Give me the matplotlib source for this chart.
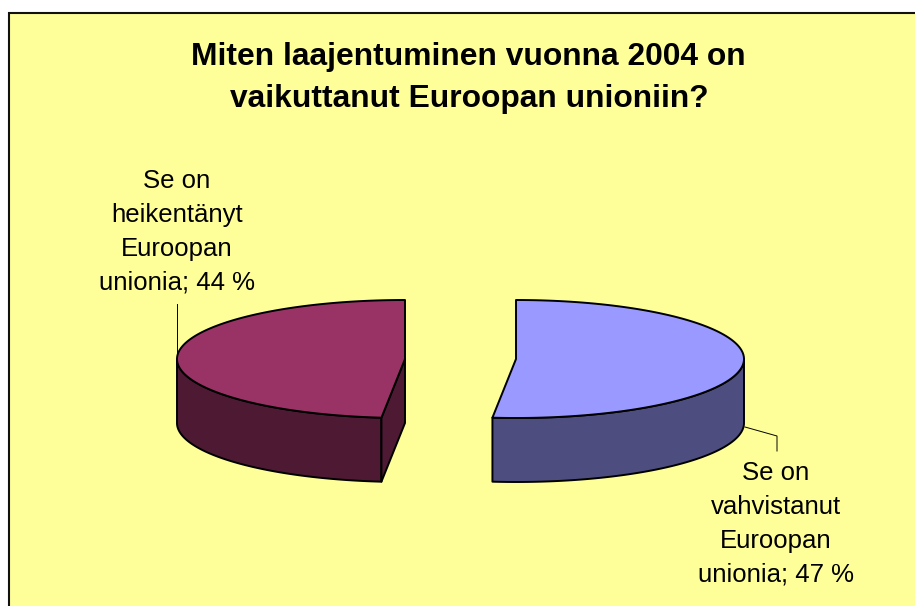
import numpy as np
from matplotlib import pyplot as plt
from matplotlib.patches import Rectangle

plt.rcParams['font.family'] = ['Liberation Sans', 'DejaVu Sans']

title_lines = ['Miten laajentuminen vuonna 2004 on', 'vaikuttanut Euroopan unioniin?']
labels = ['Se on\nvahvistanut\nEuroopan\nunionia', 'Se on\nheikentänyt\nEuroopan\nunionia']
values = [47, 44]
top_colors = ['#9999FF', '#993366']
side_colors = ['#4D4D80', '#4D1933']

# pie geometry in pixels
RX, RY, DEPTH = 228, 59, 64
CENTERS = [(516, 359), (405, 359)]
LW = 1.4


def rim(cx, cy, start, end, n=120):
    # angles in degrees, clockwise from 12 o'clock
    t = np.radians(np.linspace(start, end, n))
    return cx + RX * np.sin(t), cy - RY * np.cos(t)


def draw_slice(ax, cx, cy, start, end, top, side):
    # outer wall, only the front half of the rim can be seen
    a, b = max(start, 90), min(end, 270)
    if a < b:
        x, y = rim(cx, cy, a, b)
        ax.fill(np.r_[x, x[::-1]], np.r_[y, y[::-1] + DEPTH], fc=side, ec='k', lw=LW, joinstyle='round')
    # cut face that looks to the viewer
    if start >= 180:
        x, y = rim(cx, cy, start, start, 1)
        ax.fill([cx, cx, x[0], x[0]], [cy, cy + DEPTH, y[0] + DEPTH, y[0]],
                fc=side, ec='k', lw=LW, joinstyle='round')
    # top
    x, y = rim(cx, cy, start, end)
    ax.fill(np.r_[cx, x], np.r_[cy, y], fc=top, ec='k', lw=LW, joinstyle='round')


fig = plt.figure(figsize=(9.15, 6.06), dpi=100, facecolor='white')
ax = fig.add_axes([0, 0, 1, 1])
ax.set_xlim(0, 915)
ax.set_ylim(606, 0)
ax.axis('off')

ax.add_patch(Rectangle((9, 13), 950, 650, fc='#FFFF99', ec='#111111', lw=1.5))

ax.text(468, 56.5, title_lines[0], fontsize=22.9, fontweight='bold', ha='center', va='center')
ax.text(469, 98.5, title_lines[1], fontsize=22.9, fontweight='bold', ha='center', va='center')

shares = np.array(values) / sum(values) * 360
edges = np.r_[0, np.cumsum(shares)]
for i in range(len(values)):
    draw_slice(ax, CENTERS[i][0], CENTERS[i][1], edges[i], edges[i + 1], top_colors[i], side_colors[i])

# labels with leader lines
label_pos = [(177, 232), (776, 524)]
label_pos = label_pos[::-1]
for i in range(len(values)):
    ax.text(label_pos[i][0], label_pos[i][1], '%s; %d %%' % (labels[i], values[i]), fontsize=18.5,
            ha='center', va='center', linespacing=1.52)
ax.plot([745, 777, 777], [427, 436, 451], color='k', lw=0.7)
ax.plot([177, 177], [355, 304], color='k', lw=0.7)

plt.savefig('out.png', dpi=100)
